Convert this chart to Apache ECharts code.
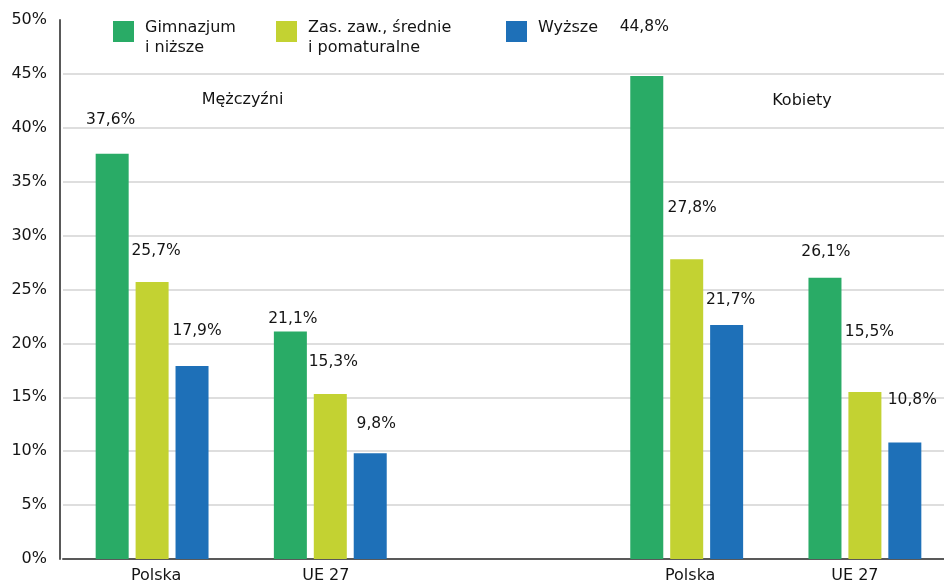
<!DOCTYPE html>
<html>
<head>
<meta charset="utf-8">
<script src="https://cdn.jsdelivr.net/npm/echarts@6/dist/echarts.min.js"></script>
<style>
  html, body { margin: 0; padding: 0; background: #fff; }
  #chart { width: 944px; height: 580px; }
</style>
</head>
<body>
<div id="chart"></div>
<script>
// Categories: two country groups per sex, an empty slot separates men from women
const categories = ['Polska', 'UE 27', '', 'Polska', 'UE 27'];

// Shares (%) by level of education
const gimnazjum = [37.6, 21.1, null, 44.8, 26.1];
const srednie   = [25.7, 15.3, null, 27.8, 15.5];
const wyzsze    = [17.9, 9.8,  null, 21.7, 10.8];

const seriesNames = ['Gimnazjum i niższe', 'Zas. zaw., średnie i pomaturalne', 'Wyższe'];
const legendTexts = ['Gimnazjum\ni niższe', 'Zas. zaw., średnie\ni pomaturalne', 'Wyższe'];
const groupTitles = ['Mężczyźni', 'Kobiety'];

const yTicks = [0, 5, 10, 15, 20, 25, 30, 35, 40, 45, 50];

// Styling
const colors = ['#29AB66', '#C3D232', '#1E70B8'];
const FONT = '"DejaVu Sans", sans-serif';
const INK = '#141414';

// Hand-placed value labels: lift above the bar top and sideways nudge
const labelLift  = [[26, 5, 0, 41, 18], [23, 24, 0, 43, 52], [27, 21, 0, 17, 35]];
const labelShift = [[-1.5, 2.5, 0, -2.5, 1], [4, 3, 0, 5.5, 4.5], [5, 6, 0, 4, 7.5]];

const fmt = v => v.toFixed(1).replace('.', ',') + '%';

const chart = echarts.init(document.getElementById('chart'), null, { renderer: 'canvas' });

const values = [gimnazjum, srednie, wyzsze];

const series = values.map((arr, s) => ({
  name: seriesNames[s],
  type: 'bar',
  barWidth: 33,
  barGap: '21%',
  itemStyle: { color: colors[s] },
  data: arr.map((v, i) => v == null ? '-' : {
    value: v,
    label: {
      show: true,
      position: 'top',
      distance: labelLift[s][i],
      offset: [labelShift[s][i], 0],
      formatter: p => fmt(p.value),
      fontFamily: FONT,
      fontSize: 15.5,
      lineHeight: 16,
      color: INK
    }
  })
}));

// Legend swatches: a 21px square; an invisible anchor point stretches the
// item box so the text hangs from the top of the square
const twoLineIcon = 'path://M0,0H21V21H0Z M0,34L0.01,34';
const oneLineIcon = 'path://M0,-6.4L0.01,-6.4 M0,0H21V21H0Z';
const legendLefts = [113, 276, 506];
const legendTops = [18.5, 18.5, 14.6];

const legends = seriesNames.map((n, i) => ({
  data: [n],
  left: legendLefts[i],
  top: legendTops[i],
  padding: 0,
  orient: 'horizontal',
  icon: i < 2 ? twoLineIcon : oneLineIcon,
  itemWidth: 21,
  itemHeight: i < 2 ? 34 : 27.4,
  selectedMode: false,
  formatter: () => legendTexts[i],
  textStyle: {
    fontFamily: FONT,
    fontSize: 16,
    lineHeight: 19.5,
    color: INK,
    padding: [0, 0, 0, 6]
  }
}));

const xShiftRich = {
  s0: { padding: [0, 0, 0, 8] },
  s1: { padding: [0, 9, 0, 0] },
  s2: {},
  s3: { padding: [0, 0, 0, 7] },
  s4: { padding: [0, 20, 0, 0] }
};
Object.values(xShiftRich).forEach(r => {
  r.fontFamily = FONT; r.fontSize = 16; r.color = INK;
});

chart.setOption({
  animation: false,
  backgroundColor: '#ffffff',
  textStyle: { fontFamily: FONT },
  legend: legends,
  grid: { left: 63, width: 891, top: 20, bottom: 21, containLabel: false, outerBoundsMode: 'none' },
  xAxis: {
    type: 'category',
    data: categories,
    axisLine: { show: true, lineStyle: { color: '#595959', width: 2 } },
    axisTick: { show: false },
    axisLabel: {
      margin: 9,
      interval: 0,
      formatter: (v, i) => v ? `{s${i}|${v}}` : '',
      rich: xShiftRich
    },
    splitLine: { show: false }
  },
  yAxis: {
    type: 'value',
    min: yTicks[0],
    max: yTicks[yTicks.length - 1],
    interval: 5,
    offset: 3,
    axisLine: { show: true, lineStyle: { color: '#595959', width: 2 } },
    axisTick: { show: false },
    axisLabel: {
      margin: 13,
      formatter: v => v + '%',
      fontFamily: FONT,
      fontSize: 16,
      color: INK
    },
    splitLine: {
      show: true,
      showMinLine: false,
      showMaxLine: false,
      lineStyle: { color: '#dedede', width: 2 }
    }
  },
  graphic: [
    {
      type: 'text', x: 242.5, y: 100,
      style: { text: groupTitles[0], font: '16px ' + FONT, fill: INK, align: 'center', verticalAlign: 'middle' }
    },
    {
      type: 'text', x: 802, y: 100.5,
      style: { text: groupTitles[1], font: '16px ' + FONT, fill: INK, align: 'center', verticalAlign: 'middle' }
    }
  ],
  series: series
});
</script>
</body>
</html>
